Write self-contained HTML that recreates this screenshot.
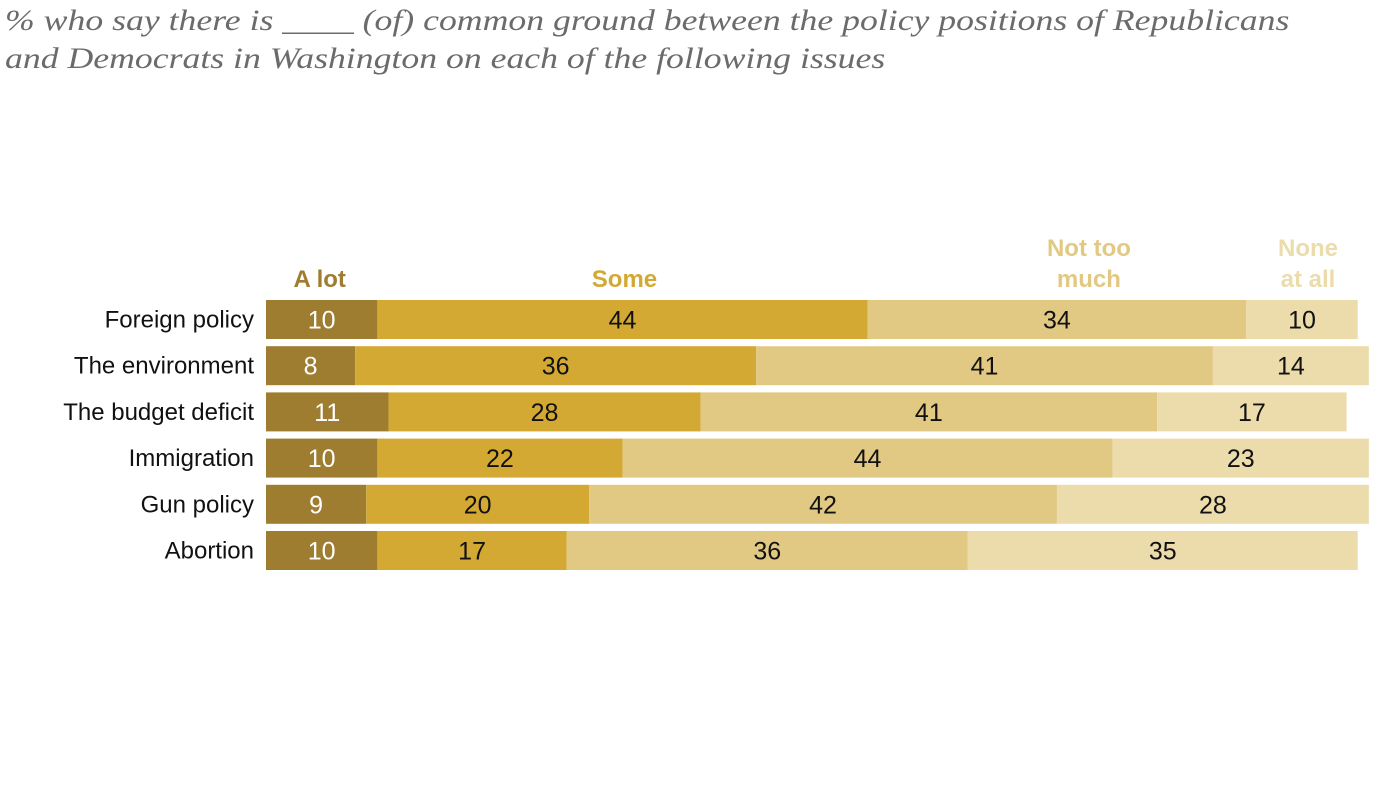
<!DOCTYPE html>
<html><head><meta charset="utf-8"><style>
body{margin:0;width:1400px;height:789px;background:#fff;overflow:hidden;font-family:"Liberation Sans",sans-serif}
.title{position:absolute;left:5px;top:2px;font-family:"Liberation Serif",serif;font-style:italic;font-size:30px;line-height:38px;color:#6b6b6b;transform:scaleX(1.19);transform-origin:0 0;white-space:nowrap}
</style></head><body>
<div class="title">% who say there is ____ (of) common ground between the policy positions of Republicans<br>and Democrats in Washington on each of the following issues</div>
<svg id="chart" width="1400" height="789" style="position:absolute;left:0;top:0"></svg>
<script>
const categories=["Foreign policy","The environment","The budget deficit","Immigration","Gun policy","Abortion"];
const seriesNames=["A lot","Some","Not too much","None at all"];
const aLot=[10,8,11,10,9,10];
const some=[44,36,28,22,20,17];
const notTooMuch=[34,41,41,44,42,36];
const noneAtAll=[10,14,17,23,28,35];
const series=[aLot,some,notTooMuch,noneAtAll];
const colors=["#9f7d30","#d3a933","#e2c983","#ecdcab"];
const textColors=["#fff","#111","#111","#111"];
const legendOffsets=[-2,2,32,6];
const x0=266,scale=11.14;
const xs=v=>x0+v*scale;
const rowY=i=>300+i*46.2;
const barH=39;
const svg=document.getElementById('chart');
const NS="http://www.w3.org/2000/svg";
function mk(tag,attrs,text){const e=document.createElementNS(NS,tag);for(const k in attrs)e.setAttribute(k,attrs[k]);if(text!==undefined)e.textContent=text;svg.appendChild(e);return e;}
categories.forEach((c,i)=>{
  const y=rowY(i);
  const lab=mk('text',{x:254,y:y+barH/2+8,'text-anchor':'end','font-size':24,fill:'#111'},c);
  
  
  let cum=0;
  series.forEach((s,j)=>{
    const v=s[i];
    const r=mk('rect',{x:xs(cum),y:y,width:v*scale,height:barH,fill:colors[j]});
    
    
    const t=mk('text',{x:xs(cum+v/2),y:y+barH/2+9,'text-anchor':'middle','font-size':25,fill:textColors[j]},v);
    
    
    cum+=v;
  });
});
const legendLines=[["A lot"],["Some"],["Not too","much"],["None","at all"]];
let cum=0;
series.forEach((s,j)=>{
  const cx=xs(cum+s[0]/2)+legendOffsets[j];cum+=s[0];
  const lines=legendLines[j];
  lines.forEach((ln,k)=>{
    const t=mk('text',{x:cx,y:287-(lines.length-1-k)*31,'text-anchor':'middle','font-size':24,'font-weight':'bold',fill:colors[j]},ln);
    
    
  });
});
</script>
</body></html>
